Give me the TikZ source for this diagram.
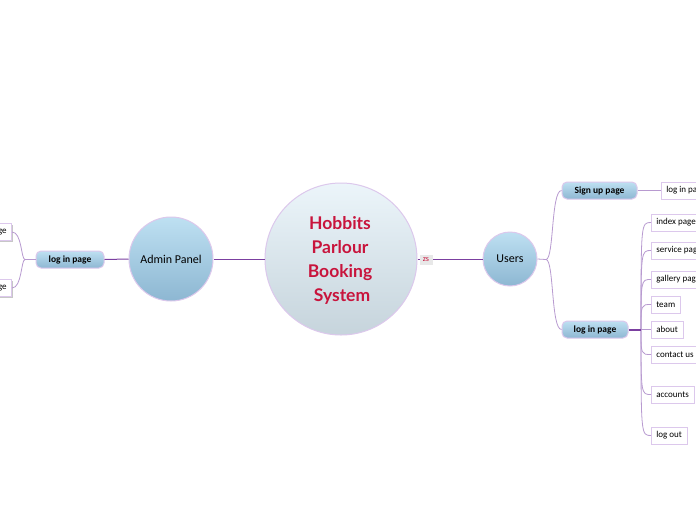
\documentclass[tikz,border=0pt]{standalone}
\usepackage{fontspec}
\setmainfont{Carlito}
\newfontfamily\titlefont{Lato}
\usetikzlibrary{shadows}
\definecolor{thickpurple}{HTML}{7B3FA0}
\definecolor{thinpurple}{HTML}{B89AD0}
\definecolor{rimcol}{HTML}{DCC8EC}
\definecolor{titlered}{HTML}{C8143C}
\definecolor{bluetop}{HTML}{BEE0F2}
\definecolor{bluebot}{HTML}{8DB7D2}
\definecolor{greytop}{HTML}{ECF5FA}
\definecolor{greybot}{HTML}{C6D4DC}
\tikzset{
  thickline/.style={draw=thickpurple, line width=1pt},
  thinline/.style={draw=thinpurple, line width=0.8pt},
  bigcircle/.style={circle, draw=rimcol, line width=1pt, top color=greytop, bottom color=greybot, inner sep=0pt},
  bluecircle/.style={circle, draw=rimcol, line width=1pt, top color=bluetop, bottom color=bluebot, inner sep=0pt, font=\fontsize{12}{14}\selectfont},
  pill/.style={rounded corners=5pt, draw=rimcol, line width=1pt, top color=bluetop, bottom color=bluebot, minimum height=17pt, inner xsep=4pt, font=\bfseries\fontsize{9.5}{11}\selectfont},
  leafbox/.style={rectangle, draw=rimcol, line width=0.6pt, fill=white, minimum height=17pt, inner xsep=5pt, font=\fontsize{9}{10}\selectfont,
    general shadow={fill=black!22, shadow xshift=1pt, shadow yshift=-1.2pt}},
  tag/.style={rectangle, fill=black!9, text=titlered, inner sep=0pt, minimum width=13pt, minimum height=10pt, font=\fontsize{8}{8}\selectfont}
}
\begin{document}
\begin{tikzpicture}[x=1pt,y=-1pt]
\path[use as bounding box, clip] (0,0) rectangle (696,520);
\fill[white] (0,0) rectangle (696,520);

% main nodes
\node[bigcircle, minimum size=152pt] (center) at (341,259) {};
\node[text=titlered, align=center, font=\titlefont\bfseries\fontsize{17.5}{24}\selectfont] (title) at (340,260) {Hobbits\\Parlour\\Booking\\\kern4pt System};
\node[bluecircle, minimum size=84pt] (admin) at (171,259) {Admin Panel};
\node[bluecircle, minimum size=54pt] (users) at (510,259) {Users};

% left side
\node[pill, minimum width=68pt] (alog) at (70,259.5) {log in page};
\node[leafbox, anchor=east] (al1) at (12,232) {page};
\node[leafbox, anchor=east] (al2) at (12,288) {page};

% right side
\node[pill, minimum width=75pt] (sign) at (599.5,190.5) {Sign up page};
\node[pill, minimum width=66pt] (rlog) at (595,329.5) {log in page};
\node[leafbox, anchor=west] (slog) at (661,190.5) {log in page};

\node[leafbox, anchor=west] (c1) at (651,222.5) {index page};
\node[leafbox, anchor=west] (c2) at (651,250.5) {service page};
\node[leafbox, anchor=west] (c3) at (651,279.5) {gallery page};
\node[leafbox, anchor=west] (c4) at (651,304.5) {team};
\node[leafbox, anchor=west] (c5) at (651,329.5) {about};
\node[leafbox, anchor=west] (c6) at (651,354.5) {contact us};
\node[leafbox, anchor=west] (c7) at (651,394.5) {accounts};
\node[leafbox, anchor=west] (c8) at (651,435.5) {log out};

% connectors
\draw[thickline] (center.west) -- (admin.east);
\draw[thickline] (admin.west) -- (alog.east);
\draw[thickline] (center.east) -- (users.west);
\node[tag] (zs) at (426,260) {zs};

\coordinate (aj) at (25,259.5);
\draw[thinline] (alog.west) -- (aj);
\draw[thinline] (aj) .. controls (21,259.5) and (22,232) .. (al1.east);
\draw[thinline] (aj) .. controls (21,259.5) and (22,288) .. (al2.east);

\coordinate (uj) at (546,259.5);
\draw[thinline] (users.east) -- (uj);
\draw[thinline] (uj) .. controls (554,259.5) and (551,190.5) .. (sign.west);
\draw[thinline] (uj) .. controls (554,259.5) and (551,329.5) .. (rlog.west);

\draw[thinline] (sign.east) -- (slog.west);

\coordinate (rj) at (641,329.5);
\foreach \c in {c1,c2,c3,c4,c6,c7,c8}{
  \draw[thinline] (rj) .. controls (rj |- \c.west) .. (\c.west);
}
\draw[thinline] (rj) -- (c5.west);
\draw[thickpurple, line width=2pt] (rlog.east) -- (rj);
\end{tikzpicture}
\end{document}
